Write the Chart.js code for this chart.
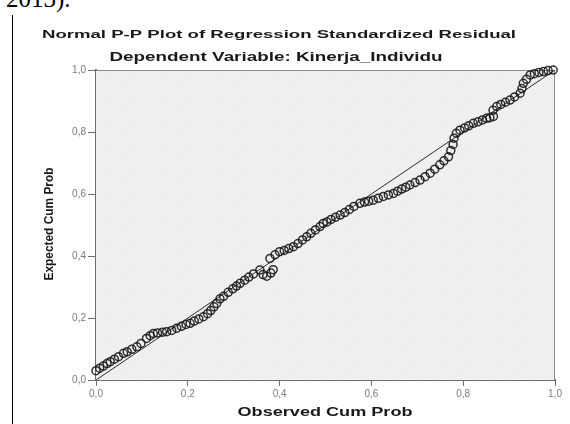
<!DOCTYPE html>
<html>
<head>
<meta charset="utf-8">
<script src="https://cdn.jsdelivr.net/npm/chart.js"></script>
<style>
  body { margin: 0; background: #fff; width: 570px; height: 424px; overflow: hidden; position: relative; }
  #cite { position: absolute; left: 6px; top: -14px; line-height: 25px; font-family: "Liberation Serif", "DejaVu Serif", serif; font-size: 25px; color: #000; }
  #rule { position: absolute; left: 12px; top: 15px; width: 1px; height: 409px; background: #000; }
  #wrap { position: absolute; left: 0; top: 0; width: 570px; height: 424px; }
</style>
</head>
<body>
<div id="cite">2013).</div>
<div id="rule"></div>
<div id="wrap"><canvas id="ppChart"></canvas></div>

<script>
    const chartTitle = "Normal P-P Plot of Regression Standardized Residual";
    const chartSubtitle = "Dependent Variable: Kinerja_Individu";
    const xTitle = "Observed Cum Prob";
    const yTitle = "Expected Cum Prob";
    const tickValues = [0, 0.2, 0.4, 0.6, 0.8, 1.0];

    // observed / expected cumulative probabilities
    const observed = [
        0.000, 0.008, 0.016, 0.024, 0.031, 0.040, 0.049, 0.060, 0.068, 0.078,
        0.089, 0.098, 0.110, 0.118, 0.125, 0.134, 0.145, 0.154, 0.165, 0.176,
        0.186, 0.196, 0.205, 0.214, 0.224, 0.234, 0.243, 0.250, 0.257, 0.263,
        0.270, 0.278, 0.288, 0.298, 0.306, 0.314, 0.324, 0.333, 0.343, 0.357,
        0.364, 0.372, 0.381, 0.386, 0.379, 0.390, 0.400, 0.410, 0.420, 0.430,
        0.440, 0.450, 0.459, 0.468, 0.478, 0.488, 0.495, 0.503, 0.512, 0.522,
        0.532, 0.542, 0.552, 0.562, 0.575, 0.585, 0.594, 0.604, 0.615, 0.626,
        0.637, 0.648, 0.657, 0.666, 0.675, 0.684, 0.695, 0.706, 0.717, 0.728,
        0.738, 0.749, 0.758, 0.768, 0.773, 0.778, 0.780, 0.785, 0.793, 0.803,
        0.812, 0.822, 0.832, 0.842, 0.851, 0.858, 0.866, 0.865, 0.873, 0.882,
        0.892, 0.902, 0.912, 0.924, 0.928, 0.931, 0.938, 0.946, 0.955, 0.965,
        0.975, 0.985, 0.996
    ];
    const expected = [
        0.030, 0.038, 0.045, 0.053, 0.059, 0.067, 0.075, 0.086, 0.091, 0.099,
        0.107, 0.118, 0.134, 0.143, 0.150, 0.152, 0.154, 0.156, 0.160, 0.167,
        0.173, 0.179, 0.183, 0.190, 0.197, 0.204, 0.214, 0.224, 0.236, 0.247,
        0.262, 0.270, 0.283, 0.294, 0.303, 0.312, 0.322, 0.332, 0.342, 0.355,
        0.340, 0.335, 0.345, 0.356, 0.392, 0.404, 0.414, 0.418, 0.424, 0.430,
        0.440, 0.452, 0.462, 0.473, 0.484, 0.495, 0.505, 0.510, 0.518, 0.525,
        0.532, 0.540, 0.550, 0.560, 0.570, 0.574, 0.577, 0.580, 0.586, 0.592,
        0.597, 0.602, 0.609, 0.616, 0.622, 0.629, 0.637, 0.645, 0.656, 0.667,
        0.680, 0.694, 0.707, 0.720, 0.740, 0.760, 0.780, 0.796, 0.806, 0.813,
        0.820, 0.828, 0.833, 0.839, 0.844, 0.846, 0.850, 0.870, 0.882, 0.889,
        0.896, 0.903, 0.913, 0.925, 0.940, 0.957, 0.970, 0.984, 0.988, 0.992,
        0.995, 0.998, 1.000
    ];
    const refLineX = [0, 1];
    const refLineY = [0, 1];

    // dotted grey backdrop like the SPSS plot area
    const dotTile = document.createElement('canvas');
    dotTile.width = 14;
    dotTile.height = 12;
    const tctx = dotTile.getContext('2d');
    tctx.fillStyle = '#efefef';
    tctx.fillRect(0, 0, 14, 12);
    tctx.fillStyle = '#ffffff';
    tctx.fillRect(1, 1, 1, 1);
    tctx.fillRect(8, 7, 1, 1);

    function drawStretched(ctx, text, x, y, font, width, rotate) {
        ctx.save();
        ctx.font = font;
        let natural = ctx.measureText(text).width;
        ctx.translate(x, y);
        if (rotate) ctx.rotate(-Math.PI / 2);
        ctx.scale(width / natural, 1);
        ctx.textAlign = 'center';
        ctx.textBaseline = 'alphabetic';
        ctx.fillStyle = '#1a1a1a';
        ctx.fillText(text, 0, 0);
        ctx.restore();
    }

    const plotFrame = {
        id: 'plotFrame',
        beforeDatasetsDraw(chart) {
            let { ctx, chartArea: a } = chart;
            ctx.save();
            ctx.fillStyle = ctx.createPattern(dotTile, 'repeat');
            ctx.fillRect(a.left, a.top, a.right - a.left, a.bottom - a.top);
            ctx.strokeStyle = '#8a8a8a';
            ctx.lineWidth = 1;
            ctx.beginPath();
            ctx.moveTo(a.left, a.top + 0.5);
            ctx.lineTo(a.right - 0.5, a.top + 0.5);
            ctx.lineTo(a.right - 0.5, a.bottom);
            ctx.stroke();
            ctx.restore();
        },
        afterDraw(chart) {
            let ctx = chart.ctx;
            drawStretched(ctx, chartTitle, 279, 38, 'bold 11.5px "Liberation Sans", Arial, sans-serif', 474);
            drawStretched(ctx, chartSubtitle, 276, 61, 'bold 12px "Liberation Sans", Arial, sans-serif', 333);
            drawStretched(ctx, xTitle, 325, 416, 'bold 13.5px "Liberation Sans", Arial, sans-serif', 175);
            drawStretched(ctx, yTitle, 53, 224, 'bold 12.5px "Liberation Sans", Arial, sans-serif', 113, true);
        }
    };

    let points = observed.map((x, i) => ({ x: x, y: expected[i] }));
    let refLine = refLineX.map((x, i) => ({ x: x, y: refLineY[i] }));

    let tickFormat = v => tickValues.some(t => Math.abs(t - v) < 1e-9) ? v.toFixed(1).replace('.', ',') : '';

    new Chart(document.getElementById('ppChart'), {
        type: 'scatter',
        data: {
            datasets: [
                {
                    data: points,
                    pointStyle: 'circle',
                    pointRadius: 4,
                    pointBorderWidth: 1.5,
                    pointBorderColor: 'rgba(25,25,25,0.9)',
                    pointBackgroundColor: 'rgba(0,0,0,0)',
                    clip: false
                },
                {
                    type: 'line',
                    data: refLine,
                    borderColor: '#2a2a2a',
                    borderWidth: 1,
                    pointRadius: 0,
                    fill: false
                }
            ]
        },
        options: {
            responsive: true,
            maintainAspectRatio: false,
            animation: false,
            layout: { padding: { left: 56, top: 70, right: 15, bottom: 14 } },
            plugins: {
                legend: { display: false },
                tooltip: { enabled: false }
            },
            scales: {
                x: {
                    type: 'linear',
                    min: 0,
                    max: 1,
                    afterFit: s => { s.height = 30; },
                    border: { color: '#6e6e6e', width: 2 },
                    grid: { drawOnChartArea: false, drawTicks: true, tickLength: 6, color: '#6e6e6e' },
                    ticks: { stepSize: 0.2, padding: 2, color: '#7a7a7a', font: { size: 10, family: '"Liberation Sans", Arial, sans-serif' }, callback: tickFormat, maxRotation: 0 }
                },
                y: {
                    type: 'linear',
                    min: 0,
                    max: 1,
                    afterFit: s => { s.width = 40; },
                    border: { color: '#6e6e6e', width: 2 },
                    grid: { drawOnChartArea: false, drawTicks: true, tickLength: 8, color: '#6e6e6e' },
                    ticks: { stepSize: 0.2, padding: 2, color: '#7a7a7a', font: { size: 10, family: '"Liberation Sans", Arial, sans-serif' }, callback: tickFormat }
                }
            }
        },
        plugins: [plotFrame]
    });
</script>
</body>
</html>
